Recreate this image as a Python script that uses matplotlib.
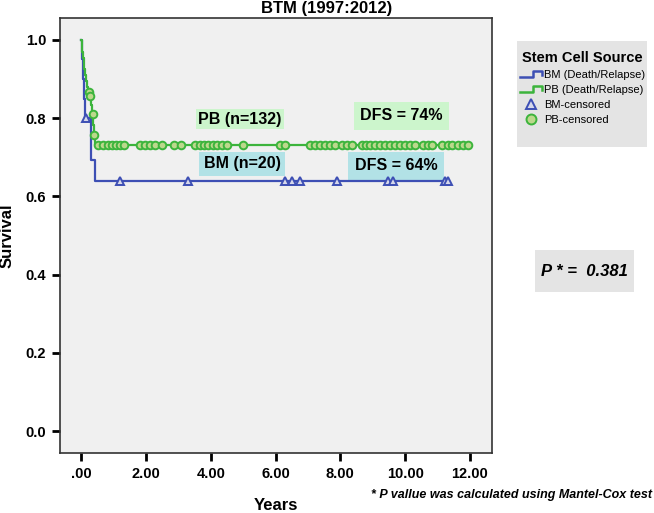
import matplotlib
matplotlib.use("Agg")
import matplotlib.pyplot as plt
import numpy as np
from matplotlib.legend_handler import HandlerBase
from matplotlib.lines import Line2D
from matplotlib.patches import Rectangle

plt.rcParams["font.family"] = ["Liberation Sans", "DejaVu Sans"]

# Kaplan-Meier steps (years, survival after the event)
bm_event_t = [0.02, 0.05, 0.08, 0.12, 0.30, 0.32, 0.43]
bm_event_s = [0.95, 0.90, 0.85, 0.80, 0.747, 0.693, 0.64]
bm_censor_t = [0.15, 1.2, 3.3, 6.3, 6.5, 6.76, 7.9, 9.47, 9.63, 11.23, 11.33]

pb_event_t = [0.02, 0.04, 0.06, 0.08, 0.10, 0.12, 0.14, 0.17, 0.21,
              0.27, 0.31, 0.34, 0.37, 0.39, 0.43]
pb_event_s = [0.985, 0.970, 0.955, 0.940, 0.925, 0.910, 0.895, 0.880, 0.866,
              0.857, 0.833, 0.810, 0.782, 0.757, 0.731]
pb_censor_t = [0.24, 0.29, 0.355, 0.41,
               0.52, 0.68, 0.83, 0.96, 1.08, 1.20, 1.33, 1.82, 1.98, 2.13,
               2.28, 2.50, 2.87, 3.09, 3.52, 3.67, 3.80, 3.92, 4.07, 4.20,
               4.35, 4.51, 5.00, 6.14, 6.30, 7.07, 7.22, 7.38, 7.53, 7.69,
               7.84, 8.06, 8.21, 8.36, 8.67, 8.80, 8.92, 9.07, 9.23, 9.38,
               9.54, 9.69, 9.85, 10.00, 10.15, 10.31, 10.56, 10.71, 10.83,
               11.14, 11.33, 11.45, 11.64, 11.79, 11.94]

x_ticks = [0, 2, 4, 6, 8, 10, 12]
x_labels = [".00", "2.00", "4.00", "6.00", "8.00", "10.00", "12.00"]
y_ticks = [0.0, 0.2, 0.4, 0.6, 0.8, 1.0]

BLUE = "#3d4fb4"
GREEN = "#3cb43c"


def km_curve(event_t, event_s, end_t):
    x = np.r_[0.0, event_t, end_t]
    y = np.r_[1.0, event_s, event_s[-1]]
    return x, y


def surv_at(t, event_t, event_s):
    idx = np.searchsorted(event_t, t, side="right")
    levels = np.r_[1.0, event_s]
    return levels[idx]


class StepHandler(HandlerBase):
    """Legend key drawn as a small step, like the SPSS legend."""

    def create_artists(self, legend, orig_handle, xdescent, ydescent,
                       width, height, fontsize, trans):
        lo, hi = height * 0.1, height * 0.9
        xs = np.array([0, width * 0.6, width * 0.6, width, width])
        ys = np.array([lo, lo, hi, hi, height * 0.45])
        line = Line2D(xs - xdescent, ys - ydescent,
                      color=orig_handle.get_color(), lw=1.8, transform=trans)
        return [line]


fig = plt.figure(figsize=(6.54, 5.13), dpi=100)
ax = fig.add_axes([60 / 654, 1 - 453 / 513, 432 / 654, 435 / 513])
ax.set_facecolor("#f0f0f0")

bx, by = km_curve(bm_event_t, bm_event_s, max(bm_censor_t))
px, py = km_curve(pb_event_t, pb_event_s, max(pb_censor_t))
bm_line, = ax.step(bx, by, where="post", color=BLUE, lw=1.6, zorder=3)
pb_line, = ax.step(px, py, where="post", color=GREEN, lw=1.6, zorder=4)

bm_cens = ax.plot(bm_censor_t, surv_at(bm_censor_t, bm_event_t, bm_event_s),
                  ls="none", marker="^", ms=6, mec=BLUE, mfc="#d6d8ea",
                  mew=1.4, zorder=5)[0]
pb_cens = ax.plot(pb_censor_t, surv_at(pb_censor_t, pb_event_t, pb_event_s),
                  ls="none", marker="o", ms=5.5, mec=GREEN, mfc="#bcd88c",
                  mew=1.4, zorder=6)[0]

ax.set_xlim(-0.65, 12.68)
ax.set_ylim(-0.056, 1.056)
ax.set_xticks(x_ticks, x_labels)
ax.set_yticks(y_ticks, [f"{v:.1f}" for v in y_ticks])
ax.tick_params(direction="out", length=6, width=2, labelsize=10.5, pad=4)
for lab in ax.get_xticklabels() + ax.get_yticklabels():
    lab.set_fontweight("bold")
for sp in ax.spines.values():
    sp.set_linewidth(1.2)
    sp.set_color("#333333")

ax.set_xlabel("Years", fontsize=12, fontweight="bold", labelpad=12)
ax.set_ylabel("Survival", fontsize=12, fontweight="bold", labelpad=8)

fig.text(327 / 654, 1 - 13 / 513, "BTM (1997:2012)", ha="center",
         va="baseline", fontsize=12, fontweight="bold")

# group labels in coloured boxes
ax.text(4.9, 0.797, "PB (n=132)", ha="center", va="center", fontsize=11.5,
        fontweight="bold", bbox=dict(boxstyle="square,pad=0.15",
                                     fc="#ccf5cc", ec="none"), zorder=7)
ax.text(4.97, 0.683, "BM (n=20)", ha="center", va="center", fontsize=11.5,
        fontweight="bold", bbox=dict(boxstyle="square,pad=0.3",
                                     fc="#b2e2e6", ec="none"), zorder=2)
ax.text(9.88, 0.806, "DFS = 74%", ha="center", va="center", fontsize=11.5,
        fontweight="bold", bbox=dict(boxstyle="square,pad=0.4",
                                     fc="#ccf5cc", ec="none"), zorder=2)
ax.text(9.72, 0.678, "DFS = 64%", ha="center", va="center", fontsize=11.5,
        fontweight="bold", bbox=dict(boxstyle="square,pad=0.4",
                                     fc="#b2e2e6", ec="none"), zorder=2)

# legend panel
fig.patches.append(Rectangle((517 / 654, 1 - 147 / 513), 130 / 654, 106 / 513,
                             transform=fig.transFigure, fc="#e4e4e4",
                             ec="none", zorder=0))
fig.legend([bm_line, pb_line, bm_cens, pb_cens],
           ["BM (Death/Relapse)", "PB (Death/Relapse)",
            "BM-censored", "PB-censored"],
           loc="upper left", bbox_to_anchor=(510 / 654, 1 - 41 / 513),
           frameon=False, fontsize=8, title="Stem Cell Source",
           title_fontproperties={"weight": "bold", "size": 10.5},
           handlelength=2.0, handletextpad=0.2, labelspacing=0.45,
           markerscale=1.3,
           handler_map={bm_line: StepHandler(), pb_line: StepHandler()})

# p value panel
fig.patches.append(Rectangle((535 / 654, 1 - 292 / 513), 99 / 654, 42 / 513,
                             transform=fig.transFigure, fc="#e4e4e4",
                             ec="none", zorder=0))
fig.text(584 / 654, 1 - 271 / 513, "P * =  0.381", ha="center", va="center",
         fontsize=12, fontweight="bold", style="italic")

fig.text(652 / 654, 1 - 495 / 513,
         "* P vallue was calculated using Mantel-Cox test", ha="right",
         va="center", fontsize=9, fontweight="bold", style="italic")

fig.savefig("out.png", dpi=100)
